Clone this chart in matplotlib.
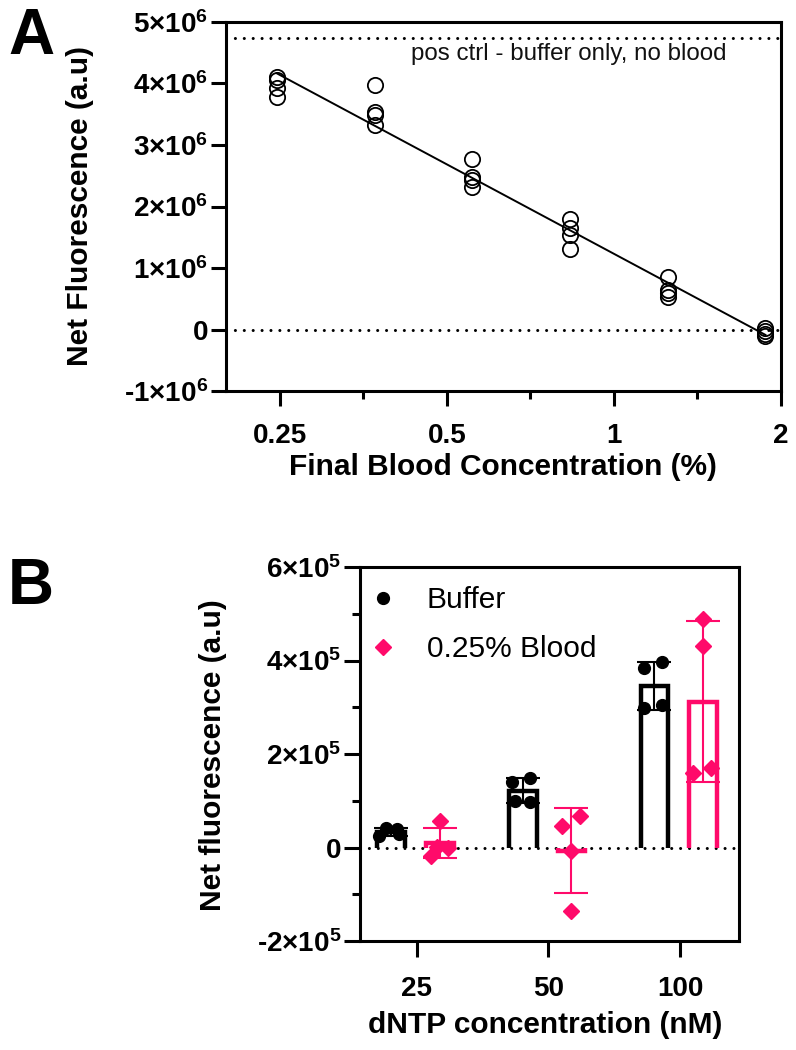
import numpy as np
import matplotlib
matplotlib.use("Agg")
import matplotlib.pyplot as plt
from matplotlib.ticker import FixedLocator, FuncFormatter, NullFormatter

plt.rcParams['font.family'] = ['Liberation Sans', 'DejaVu Sans']
plt.rcParams['mathtext.fontset'] = 'custom'
plt.rcParams['mathtext.rm'] = 'Liberation Sans:bold'
plt.rcParams['mathtext.bf'] = 'Liberation Sans:bold'
plt.rcParams['mathtext.it'] = 'Liberation Sans:bold'
plt.rcParams['mathtext.default'] = 'bf'

# ---------------- Panel A data ----------------
blood_conc = [0.2469, 0.3704, 0.5556, 0.8333, 1.25, 1.875]
fluor_a = [
    [4.10e6, 4.05e6, 3.93e6, 3.78e6],
    [3.97e6, 3.54e6, 3.49e6, 3.33e6],
    [2.78e6, 2.48e6, 2.43e6, 2.32e6],
    [1.80e6, 1.65e6, 1.54e6, 1.31e6],
    [0.86e6, 0.64e6, 0.59e6, 0.53e6],
    [0.02e6, -0.03e6, -0.07e6, -0.11e6],
]
pos_ctrl = 4.74e6
pos_ctrl_label = "pos ctrl - buffer only, no blood"
xticks_a = [0.25, 0.5, 1, 2]
xtick_labels_a = ["0.25", "0.5", "1", "2"]
yticks_a = [-1e6, 0, 1e6, 2e6, 3e6, 4e6, 5e6]

# ---------------- Panel B data ----------------
dntp_labels = ["25", "50", "100"]
buffer_vals = [[41e3, 39e3, 24e3, 28e3],
               [140e3, 149e3, 100e3, 98e3],
               [385e3, 396e3, 298e3, 305e3]]
blood_vals = [[56e3, -2e3, 2e3, -18e3],
              [47e3, 68e3, -7e3, -135e3],
              [488e3, 430e3, 160e3, 170e3]]
series_names = ["Buffer", "0.25% Blood"]
yticks_b = [-2e5, 0, 2e5, 4e5, 6e5]

# style
PINK = '#FF0A6A'
BLACK = 'black'
buffer_jitter = [[-5, 6, -12, 8], [-11, 7, -8, 7], [-10, 8, -10, 8]]   # px
blood_jitter = [[0, 8, -3, -9], [-9, 9, 0, 0], [0, 0, -10, 8]]         # px

W, H = 796, 1050
fig = plt.figure(figsize=(W / 100, H / 100), dpi=100)

def fx(px):
    return px / W

def fy(py):
    return 1 - py / H

def sci_fmt(exp):
    def f(v, p):
        if v == 0:
            return "0"
        k = int(round(v / 10 ** exp))
        return f"{k}×10$^{{{exp}}}$"
    return f

# ---------------- Panel A ----------------
axA = fig.add_axes([fx(226), fy(391), fx(781 - 226), (391 - 22) / H])
axA.set_xscale('log')
axA.set_xlim(0.2, 2)
axA.set_ylim(-1e6, 5e6)

for v in (0, pos_ctrl):
    axA.axhline(v, color='black', lw=2.2, linestyle=(0, (0.01, 2.9)),
                dash_capstyle='round', zorder=1)
axA.text(0.902, 0.912, pos_ctrl_label, transform=axA.transAxes, ha='right',
         va='center', fontsize=17.4, color='#111111')

xs_all, ys_all = [], []
for xc, vals in zip(blood_conc, fluor_a):
    axA.plot([xc] * len(vals), vals, linestyle='none', marker='o', ms=11,
             mfc='none', mec='black', mew=1.3, zorder=3)
    xs_all += [xc] * len(vals)
    ys_all += vals
b, a = np.polyfit(np.log10(xs_all), ys_all, 1)
xl = np.array([min(blood_conc), max(blood_conc)])
axA.plot(xl, a + b * np.log10(xl), color='black', lw=1.4, zorder=2)

axA.xaxis.set_major_locator(FixedLocator(xticks_a))
axA.xaxis.set_major_formatter(FuncFormatter(
    lambda v, p: xtick_labels_a[xticks_a.index(v)] if v in xticks_a else ""))
axA.xaxis.set_minor_locator(FixedLocator([xticks_a[i] * np.sqrt(2) for i in range(3)]))
axA.xaxis.set_minor_formatter(NullFormatter())
axA.yaxis.set_major_locator(FixedLocator(yticks_a))
axA.yaxis.set_major_formatter(FuncFormatter(sci_fmt(6)))
for sp in axA.spines.values():
    sp.set_linewidth(2.2)
axA.tick_params(which='major', length=11, width=2.2, labelsize=20, pad=2)
axA.tick_params(which='minor', length=6, width=2.2)
axA.tick_params(axis='x', which='major', pad=12)
for lab in axA.get_xticklabels() + axA.get_yticklabels():
    lab.set_fontweight('bold')

fig.text(fx(31), fy(37), "A", fontsize=46, fontweight='bold', ha='center', va='center')
fig.text(fx(80), fy(206), "Net Fluorescence (a.u)", rotation=90, fontsize=21.5,
         fontweight='bold', ha='center', va='center')
fig.text(fx(503), fy(467), "Final Blood Concentration (%)", fontsize=21.5,
         fontweight='bold', ha='center', va='center')

# ---------------- Panel B ----------------
axB = fig.add_axes([fx(360), fy(941), fx(739 - 360), (941 - 567) / H])
axB.set_xlim(-0.433, 2.449)
axB.set_ylim(-2e5, 6e5)
px_per_unit = 131.5
off = [-0.195, 0.175]
bw = 0.21

axB.axhline(0, color='black', lw=2.2, linestyle=(0, (0.01, 2.9)),
            dash_capstyle='round', zorder=3)

groups = [(buffer_vals, BLACK, 'o', 8.5, buffer_jitter),
          (blood_vals, PINK, 'D', 8.5, blood_jitter)]
for gi, (vals, col, mk, ms, jit) in enumerate(groups):
    means = [np.mean(v) for v in vals]
    sds = [np.std(v, ddof=1) for v in vals]
    xpos = np.arange(len(vals)) + off[gi]
    axB.bar(xpos, means, width=bw, color='white', lw=0, zorder=2)
    for xp, m in zip(xpos, means):
        axB.plot([xp - bw / 2, xp - bw / 2, xp + bw / 2, xp + bw / 2], [0, m, m, 0],
                 color=col, lw=3.2, solid_joinstyle='miter', solid_capstyle='butt', zorder=4)
    axB.errorbar(xpos, means, yerr=sds, fmt='none', ecolor=col, elinewidth=1.5,
                 capsize=12, capthick=1.5, zorder=5)
    for i, v in enumerate(vals):
        xj = xpos[i] + np.array(jit[i]) / px_per_unit
        axB.plot(xj, v, linestyle='none', marker=mk, ms=ms, color=col, mec=col,
                 zorder=6, label=series_names[gi] if i == 0 else None)

axB.set_xticks(range(len(dntp_labels)))
axB.set_xticklabels(dntp_labels)
axB.yaxis.set_major_locator(FixedLocator(yticks_b))
axB.yaxis.set_minor_locator(FixedLocator([-1e5, 1e5, 3e5, 5e5]))
axB.yaxis.set_major_formatter(FuncFormatter(sci_fmt(5)))
for sp in axB.spines.values():
    sp.set_linewidth(2.2)
axB.tick_params(which='major', length=11.5, width=2.2, labelsize=20, pad=2)
axB.tick_params(which='minor', length=6, width=2.2)
axB.tick_params(axis='x', which='major', pad=14)
for lab in axB.get_xticklabels() + axB.get_yticklabels():
    lab.set_fontweight('bold')

leg = axB.legend(loc='upper left', bbox_to_anchor=(0.021, 0.948), frameon=False,
                 fontsize=21.5, handlelength=1.0, handletextpad=0.97,
                 labelspacing=0.70, borderpad=0, borderaxespad=0, markerscale=1.0)

fig.text(fx(31), fy(587), "B", fontsize=46, fontweight='bold', ha='center', va='center')
fig.text(fx(213), fy(755), "Net fluorescence (a.u)", rotation=90, fontsize=21.5,
         fontweight='bold', ha='center', va='center')
fig.text(fx(545), fy(1025), "dNTP concentration (nM)", fontsize=21.5,
         fontweight='bold', ha='center', va='center')

fig.savefig("out.png", dpi=100)
